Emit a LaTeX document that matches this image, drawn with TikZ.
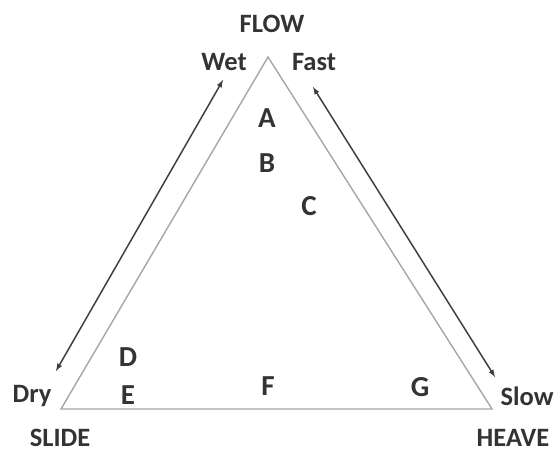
\documentclass[tikz,border=0pt]{standalone}
\usepackage{fontspec}
\setmainfont{Carlito}
\begin{document}
\begin{tikzpicture}[x=1pt,y=-1pt,
  lbl/.style={font=\fontsize{26.5}{28}\selectfont\bfseries, text=black!80, inner sep=0pt},
  ltr/.style={font=\fontsize{29}{31}\selectfont\bfseries, text=black!80, inner sep=0pt},
  tri/.style={draw=black!35, line width=1.4pt, line join=miter},
  arr/.style={draw=black!75, line width=1.5pt, <->, >=latex}]
\useasboundingbox (0,0) rectangle (556,452);
\coordinate (T) at (268,57);
\coordinate (L) at (61,409);
\coordinate (R) at (492,409);
\draw[tri] (T) -- (L) -- (R) -- cycle;
\coordinate (a1) at (223,80);
\coordinate (a2) at (56,371);
\coordinate (b1) at (313,87);
\coordinate (b2) at (495,377);
\draw[arr] (a1) -- (a2);
\draw[arr] (b1) -- (b2);
\node[lbl] (flow) at (272,24) {FLOW};
\node[lbl] (wet) at (224,62) {Wet};
\node[lbl] (fast) at (314,62) {Fast};
\node[lbl] (dry) at (32,396) {Dry};
\node[lbl] (slow) at (527,396) {Slow};
\node[lbl] (slide) at (60,438) {SLIDE};
\node[lbl] (heave) at (513,438) {HEAVE};
\node[ltr] (A) at (267,118) {A};
\node[ltr] (B) at (267,163) {B};
\node[ltr] (C) at (309,206) {C};
\node[ltr] (D) at (128,357) {D};
\node[ltr] (E) at (128,395) {E};
\node[ltr] (F) at (268,386) {F};
\node[ltr] (G) at (420,387) {G};
\end{tikzpicture}
\end{document}
